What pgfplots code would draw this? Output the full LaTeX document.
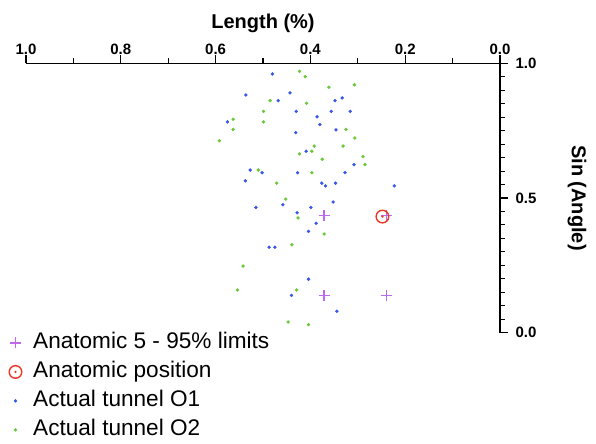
\documentclass[border=0pt]{standalone}
\usepackage{fontspec}
\setmainfont{Liberation Sans}
\usepackage{pgfplots}
\pgfplotsset{compat=1.18}
\usetikzlibrary{calc}

\definecolor{dotblue}{RGB}{55,85,235}
\definecolor{dotgreen}{RGB}{105,200,55}
\definecolor{limpurple}{RGB}{190,105,240}
\definecolor{posred}{RGB}{235,55,35}

% circle with a dot in the middle
\pgfdeclareplotmark{odot}{%
  \pgfpathcircle{\pgfpointorigin}{\pgfplotmarksize}\pgfusepathqstroke
  \pgfpathcircle{\pgfpointorigin}{0.2\pgfplotmarksize}\pgfusepathqfill}

\begin{document}
\begin{tikzpicture}
\begin{axis}[
  scale only axis,
  width=474bp, height=269bp,
  x dir=reverse,
  xmin=0, xmax=1, ymin=0, ymax=1,
  axis x line=top, axis y line=right,
  axis line style={-, line width=1.1pt, black},
  tick align=outside,
  tick style={line width=1.1pt, black},
  major tick length=8bp, minor tick length=5bp,
  xtick={0,0.2,0.4,0.6,0.8,1.0}, minor x tick num=1,
  ytick={0,0.5,1.0}, minor y tick num=9,
  /pgf/number format/assume math mode=true,
  /pgf/number format/fixed, /pgf/number format/fixed zerofill,
  /pgf/number format/precision=1,
  ticklabel style={font=\bfseries\fontsize{15bp}{15bp}\selectfont},
  xticklabel style={yshift=-3bp},
  yticklabel style={xshift=4bp},
  xlabel={Length (\%)}, ylabel={Sin (Angle)},
  every axis x label/.style={at={(axis description cs:0.5,1)}, anchor=base,
    yshift=35bp, font=\bfseries\fontsize{20bp}{20bp}\selectfont},
  every axis y label/.style={at={(axis description cs:1,0.5)}, anchor=center,
    xshift=77bp, rotate=-90, font=\bfseries\fontsize{20bp}{20bp}\selectfont},
  clip=false,
  legend cell align=left,
  legend image code/.code={%
    \node[draw=none, fill=none, inner sep=0pt, minimum width=12bp, minimum height=6bp] at (0bp,0bp) {};
    \draw[#1] plot coordinates {(0bp,0bp)};},
  legend style={at={(axis description cs:0,0)}, anchor=north west,
    xshift=-17bp, yshift=0bp, draw=none, fill=none, inner sep=0pt,
    column sep=5bp, row sep=8.5bp,
    nodes={inner sep=0pt, text height=16bp, text depth=4.5bp,
      font=\fontsize{22.6bp}{24bp}\selectfont}},
]
\coordinate (bl) at (axis description cs:0,0);

\addplot[only marks, mark=+, mark size=5.5bp, color=limpurple, line width=1.4bp]
  coordinates {(0.371,0.436) (0.240,0.436) (0.371,0.138) (0.240,0.138)};
\addlegendentry{Anatomic 5 - 95\% limits}

\addplot[only marks, mark=odot, mark size=6.3bp, color=posred, line width=1.4bp]
  coordinates {(0.248,0.431)};
\addlegendentry{Anatomic position}

\addplot[only marks, mark=*, mark size=1.5bp, color=dotblue]
  coordinates {
    (0.480,0.961) (0.536,0.883) (0.443,0.891) (0.468,0.862) (0.348,0.862)
    (0.333,0.872) (0.430,0.822) (0.386,0.802) (0.356,0.822) (0.316,0.822)
    (0.575,0.783) (0.380,0.773) (0.431,0.743) (0.346,0.753) (0.409,0.674)
    (0.308,0.624) (0.527,0.604) (0.502,0.594) (0.427,0.594) (0.327,0.594)
    (0.537,0.564) (0.376,0.555) (0.368,0.545) (0.347,0.555) (0.223,0.545)
    (0.515,0.465) (0.458,0.475) (0.399,0.465) (0.352,0.485) (0.428,0.445)
    (0.388,0.406) (0.404,0.376) (0.487,0.317) (0.475,0.317) (0.404,0.198)
    (0.440,0.138) (0.344,0.079)
  };
\addlegendentry{Actual tunnel O1}

\addplot[only marks, mark=*, mark size=1.5bp, color=dotgreen]
  coordinates {
    (0.423,0.971) (0.411,0.951) (0.361,0.912) (0.307,0.921) (0.485,0.862)
    (0.408,0.852) (0.499,0.822) (0.563,0.793) (0.499,0.783) (0.563,0.755)
    (0.325,0.755) (0.592,0.713) (0.306,0.723) (0.392,0.693) (0.397,0.674)
    (0.423,0.664) (0.331,0.693) (0.375,0.644) (0.289,0.654) (0.285,0.624)
    (0.510,0.604) (0.397,0.594) (0.471,0.555) (0.452,0.496) (0.426,0.426)
    (0.371,0.366) (0.439,0.326) (0.542,0.247) (0.554,0.158) (0.429,0.158)
    (0.447,0.039) (0.404,0.029)
  };
\addlegendentry{Actual tunnel O2}
\end{axis}
\pgfresetboundingbox
\path[use as bounding box] ($(bl)+(-26bp,-111.5bp)$) rectangle ($(bl)+(570bp,332.5bp)$);
\end{tikzpicture}
\end{document}
